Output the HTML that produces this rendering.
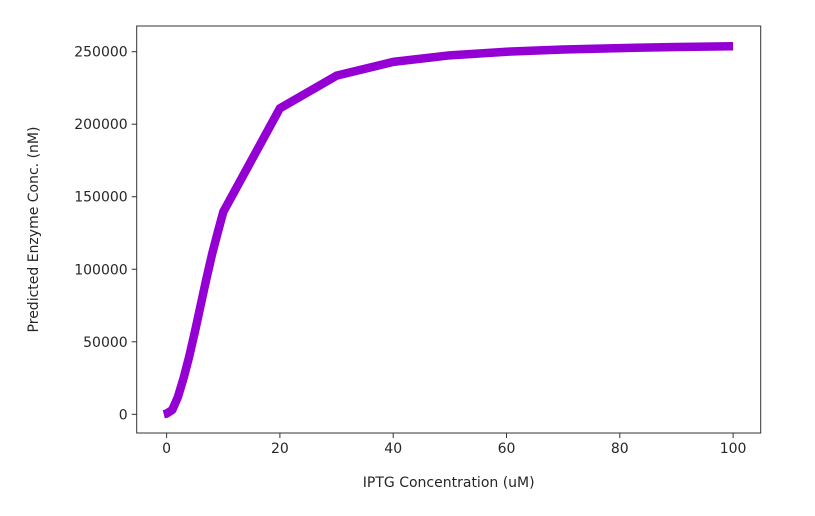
<!DOCTYPE html>
<html><head><meta charset="utf-8"><style>
body{margin:0;background:#fff;width:815px;height:511px;overflow:hidden}
text{font-family:"DejaVu Sans","Liberation Sans",sans-serif;fill:#262626}
</style></head><body>
<svg id="chart" width="815" height="511" xmlns="http://www.w3.org/2000/svg"></svg>
<script>
const xVals=[-0.5,0,1,2,3,4,5,6,7,8,9,10,20,30,40,50,60,70,80,90,100];
const yVals=[0,500,3000,12000,25000,40000,57000,75000,93000,110000,125000,139500,211000,233500,243000,247500,250000,251500,252500,253200,253800];
const xTicks=[0,20,40,60,80,100];
const yTicks=[0,50000,100000,150000,200000,250000];
const L=136.7,R=760.7,T=26,B=433;
const sx=v=>166.6+v*5.665;
const sy=v=>414.3-v*362.6/250000;
const svg=document.getElementById('chart');
const NS='http://www.w3.org/2000/svg';
function mk(tag,attrs,txt){const e=document.createElementNS(NS,tag);for(const k in attrs)e.setAttribute(k,attrs[k]);if(txt!==undefined)e.textContent=txt;svg.appendChild(e);return e;}
let d=xVals.map((x,i)=>(i?'L':'M')+sx(x)+','+sy(yVals[i])).join(' ');
const line=mk('path',{d:d,fill:'none',stroke:'#9400d3','stroke-width':8.5,'stroke-linejoin':'round'});


const frame=mk('rect',{x:L,y:T,width:R-L,height:B-T,fill:'none',stroke:'#333','stroke-width':1});


xTicks.forEach(t=>{
  mk('line',{x1:sx(t),x2:sx(t),y1:B,y2:B+5,stroke:'#333'});
  const tx=mk('text',{x:sx(t),y:B+20,'text-anchor':'middle','font-size':14},String(t));
  
  
});
yTicks.forEach(t=>{
  mk('line',{x1:L-5,x2:L,y1:sy(t),y2:sy(t),stroke:'#333'});
  const tx=mk('text',{x:L-9,y:sy(t)+5,'text-anchor':'end','font-size':14},String(t));
  
  
});
const xt=mk('text',{x:(L+R)/2,y:487,'text-anchor':'middle','font-size':14},'IPTG Concentration (uM)');


const yt=mk('text',{x:38,y:(T+B)/2,'text-anchor':'middle','font-size':14,transform:'rotate(-90 38 '+((T+B)/2)+')'},'Predicted Enzyme Conc. (nM)');


</script>
</body></html>
